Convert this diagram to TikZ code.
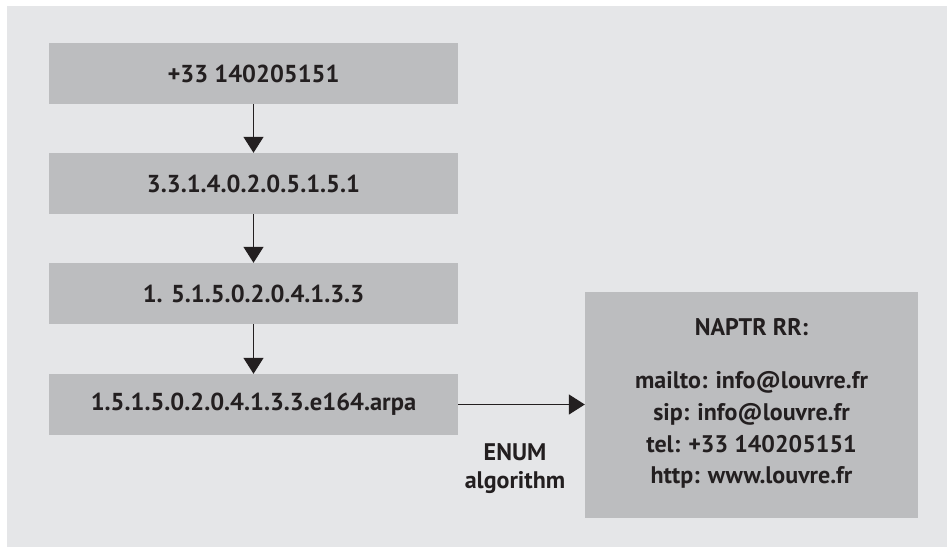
\documentclass[tikz,border=0pt]{standalone}
\usepackage{fontspec}
\setmainfont{PT Sans}
\usetikzlibrary{arrows.meta}
\definecolor{panel}{HTML}{E5E6E8}
\definecolor{boxfill}{HTML}{BCBDBF}
\definecolor{ink}{HTML}{231F20}
\begin{document}
\begin{tikzpicture}[x=1pt,y=-1pt,
  stepbox/.style={fill=boxfill, draw=none, minimum width=409pt, minimum height=61pt,
    inner sep=0pt, text=ink, font=\bfseries\fontsize{24.5}{28}\selectfont},
  flow/.style={draw=ink, line width=1.3pt, -{Triangle[width=20pt,length=16pt]}},
  lbl/.style={text=ink, font=\bfseries\fontsize{24}{28}\selectfont, align=center}]
  % page and panel
  \useasboundingbox (0,0) rectangle (947,547);
  \fill[white] (0,0) rectangle (947,547);
  \fill[panel] (7,6) rectangle (947,547);
  % conversion steps
  \node[stepbox] (num) at (253.5,73.5) {+33 140205151};
  \node[stepbox] (rev) at (253.5,183.5) {3.3.1.4.0.2.0.5.1.5.1};
  \node[stepbox] (inv) at (253.5,293.5) {1. 5.1.5.0.2.0.4.1.3.3};
  \node[stepbox] (dom) at (253.5,404.5) {1.5.1.5.0.2.0.4.1.3.3.e164.arpa};
  % resource record box
  \node[fill=boxfill, minimum width=333pt, minimum height=226pt, inner sep=0pt] (rr) at (751.5,404.5) {};
  \node[lbl] (rrtitle) at (751.5,327) {NAPTR RR:};
  \node[lbl, font=\bfseries\fontsize{24}{31.7}\selectfont] (rrlist) at (751.5,430)
    {mailto: info@louvre.fr\\sip: info@louvre.fr\\tel: +33 140205151\\http: www.louvre.fr};
  % arrows
  \draw[flow] (num) -- (rev);
  \draw[flow] (rev) -- (inv);
  \draw[flow] (inv) -- (dom);
  \draw[flow] (dom) -- (rr);
  \node[lbl, font=\bfseries\fontsize{24}{28}\selectfont] (alg) at (515,469) {ENUM\\algorithm};
\end{tikzpicture}
\end{document}
